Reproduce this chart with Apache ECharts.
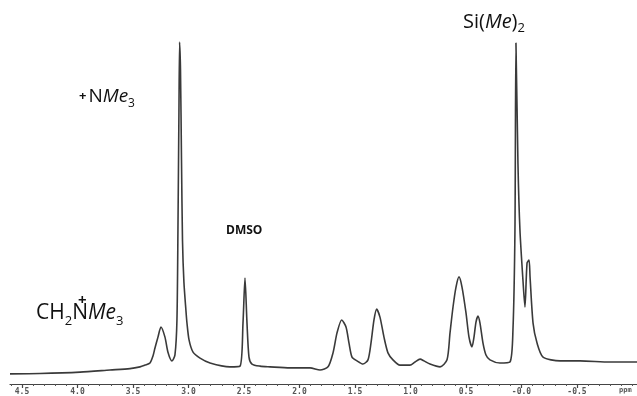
<!DOCTYPE html>
<html><head><meta charset="utf-8">
<script src="https://cdn.jsdelivr.net/npm/echarts@6/dist/echarts.min.js"></script>
<style>html,body{margin:0;padding:0;background:#fff}#c{width:637px;height:396px}</style>
</head><body><div id="c"></div>
<script>
// chemical shift (ppm) and intensity (arbitrary units, 0-100)
const ppm = [4.608,4.338,3.977,3.707,3.527,3.437,3.392,3.347,3.320,3.302,3.275,3.248,3.212,3.185,3.149,3.122,3.104,3.095,3.086,3.080,3.072,3.063,3.054,3.041,3.023,3.014,2.995,2.959,2.896,2.806,2.626,2.536,2.509,2.491,2.473,2.455,2.428,2.356,2.266,2.086,1.905,1.815,1.743,1.698,1.662,1.620,1.581,1.554,1.527,1.482,1.428,1.383,1.356,1.329,1.305,1.275,1.239,1.203,1.158,1.095,1.005,0.959,0.914,0.878,0.824,0.734,0.671,0.644,0.617,0.590,0.563,0.536,0.500,0.473,0.446,0.428,0.410,0.392,0.374,0.347,0.320,0.284,0.194,0.104,0.077,0.059,0.050,0.032,0.014,-0.013,-0.031,-0.050,-0.068,-0.077,-0.104,-0.140,-0.194,-0.347,-0.527,-0.797,-1.041];
const intensity = [2.9,3.0,3.4,4.0,4.4,4.9,5.4,6.0,8.0,10.3,13.4,16.3,13.4,9.1,6.6,8.3,18.3,44,78,97.7,89.7,64,41,29,21,17.5,12.6,9.1,7.4,6.0,4.9,5.1,17.4,30.3,17.4,7.7,5.7,5.1,4.9,4.6,4.6,4.0,4.9,8.9,14.6,18.3,16.3,11.7,7.7,6.6,5.7,6.9,11.7,18.3,21.4,19.1,13.4,8.9,6.9,5.4,5.4,6.3,7.1,6.6,5.7,4.9,6.9,14.6,22.0,27.7,30.6,27.7,20.3,13.4,10.6,13.4,17.7,19.4,17.4,11.7,8.3,6.9,6.0,6.3,15.4,44,97.4,63.1,44,29.7,22.0,34.6,35.4,30.6,17.4,11.7,7.7,6.6,6.6,6.3,6.3];
const majorTicks = [4.5,4.0,3.5,3.0,2.5,2.0,1.5,1.0,0.5,0.0,-0.5];
const tickLabels = ['4.5','4.0','3.5','3.0','2.5','2.0','1.5','1.0','0.5','-0.0','-0.5'];
const minorTicks = [4.6,4.4,4.3,4.2,4.1,3.9,3.8,3.7,3.6,3.4,3.3,3.2,3.1,2.9,2.8,2.7,2.6,2.4,2.3,2.2,2.1,1.9,1.8,1.7,1.6,1.4,1.3,1.2,1.1,0.9,0.8,0.7,0.6,0.4,0.3,0.2,0.1,-0.1,-0.2,-0.3,-0.4,-0.6,-0.7,-0.8,-0.9,-1.0];

const points = ppm.map((p, i) => [p, intensity[i]]);
const labelFor = {};
majorTicks.forEach((t, i) => { labelFor[t.toFixed(1)] = tickLabels[i]; });

const chart = echarts.init(document.getElementById('c'), null, {renderer: 'canvas'});
const xLo = -1.0405, xHi = 4.608;
const F = '"Open Sans", "Noto Sans", sans-serif';
chart.setOption({
  animation: false,
  backgroundColor: '#fff',
  grid: {left: 10, right: 0, top: 34, bottom: 12},
  xAxis: [{
    type: 'value', inverse: true, min: xLo, max: xHi,
    position: 'bottom',
    splitLine: {show: false},
    axisLine: {lineStyle: {color: '#444', width: 1.2}},
    axisTick: {show: true, customValues: majorTicks, length: 4, lineStyle: {color: '#444', width: 1.2}},
    axisLabel: {show: true, customValues: majorTicks, margin: 4, fontSize: 8, fontWeight: 'bold', color: '#555',
      fontFamily: '"DejaVu Sans Mono", monospace',
      formatter: v => labelFor[Number(v).toFixed(1)] || ''}
  }, {
    type: 'value', inverse: true, min: xLo, max: xHi,
    position: 'bottom',
    splitLine: {show: false},
    axisLine: {show: false},
    axisTick: {show: true, customValues: minorTicks, length: 2, lineStyle: {color: '#555', width: 1}},
    axisLabel: {show: false}
  }],
  yAxis: {type: 'value', min: 0, max: 100, show: false, splitLine: {show: false}},
  series: [{
    type: 'line', xAxisIndex: 0, data: points, symbol: 'none', smooth: 0.25,
    lineStyle: {color: '#3a3a3a', width: 1.6}
  }],
  graphic: [
    {type: 'text', left: 463, top: 12, style: {
      text: '{n|Si(}{i|Me}{n|)}{s|2}',
      rich: {
        n: {fontFamily: F, fontSize: 20, lineHeight: 26, fill: '#111'},
        i: {fontFamily: F, fontSize: 20, fontStyle: 'italic', lineHeight: 26, fill: '#111'},
        s: {fontFamily: F, fontSize: 13, lineHeight: 14, verticalAlign: 'bottom', fill: '#111'}
      }}},
    {type: 'text', left: 79, top: 87, style: {
      text: '{p|+}{n|N}{i|Me}{s|3}',
      rich: {
        p: {fontFamily: F, fontSize: 13, lineHeight: 26, fontWeight: 'bold', fill: '#111', padding: [0, 2, 0, 0]},
        n: {fontFamily: F, fontSize: 19, lineHeight: 26, fill: '#111'},
        i: {fontFamily: F, fontSize: 19, fontStyle: 'italic', lineHeight: 26, fill: '#111'},
        s: {fontFamily: F, fontSize: 12, lineHeight: 13, verticalAlign: 'bottom', fill: '#111'}
      }}},
    {type: 'text', left: 36, top: 303, style: {
      text: '{n|CH}{s|2}{n|N}{i|Me}{s|3}',
      rich: {
        n: {fontFamily: F, fontSize: 21, lineHeight: 28, fill: '#111'},
        i: {fontFamily: F, fontSize: 21, fontStyle: 'italic', lineHeight: 28, fill: '#111'},
        s: {fontFamily: F, fontSize: 13, lineHeight: 14, verticalAlign: 'bottom', fill: '#111'}
      }}},
    {type: 'text', left: 78, top: 293, style: {text: '+', fontFamily: F, fontSize: 15, fontWeight: 'bold', fill: '#111'}},
    {type: 'text', left: 226, top: 225, style: {text: 'DMSO', fontFamily: F, fontSize: 12, fontWeight: 'bold', fill: '#111'}},
    {type: 'text', left: 619, top: 387, style: {text: 'ppm', fontFamily: '"DejaVu Sans Mono", monospace', fontSize: 7, fontWeight: 'bold', fill: '#555'}}
  ]
});
</script></body></html>
